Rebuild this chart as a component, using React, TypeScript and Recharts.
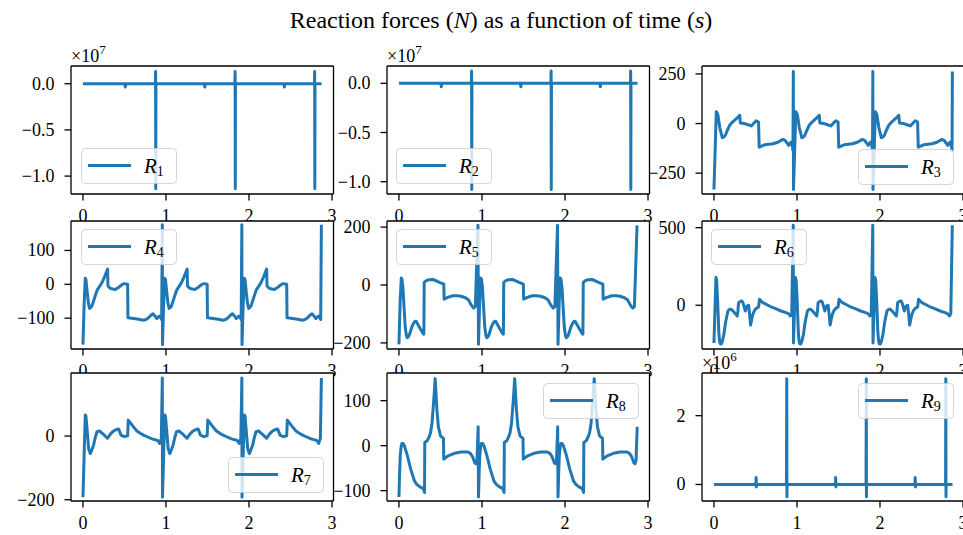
import React from "react";
import { LineChart, Line, XAxis, YAxis, CartesianGrid, ReferenceLine, Legend } from "recharts";

// time axis (s): the motion repeats with the same period, cycles start at these times
const CYCLE_STARTS = [0, 0.958, 1.916];
const X_TICKS = [0, 1, 2, 3];
const X_DOMAIN = [-0.144, 3.018];

// one cycle of each reaction force, [time in cycle, value]
const R1_SHAPE = [[0, 0], [0.505, 0], [0.51, -0.035], [0.515, 0], [0.872, 0], [0.875, 0.132], [0.877, -1.136], [0.879, 0], [0.958, 0]];
const R2_SHAPE = [[0, 0], [0.505, 0], [0.51, -0.035], [0.515, 0], [0.872, 0], [0.875, 0.126], [0.877, -1.078], [0.879, 0], [0.958, 0]];
const R3_SHAPE = [
  [0, -332], [0.014, -140], [0.028, 60], [0.036, 55], [0.048, 42], [0.07, -20], [0.1, -71], [0.118, -68], [0.136, -60],
  [0.16, -35], [0.19, -8], [0.22, 6], [0.25, 17], [0.28, 28], [0.31, 42], [0.318, 3], [0.34, 2], [0.37, 0], [0.41, -6],
  [0.45, -12], [0.48, 2], [0.51, 14], [0.537, 8], [0.545, -119], [0.61, -107], [0.66, -104], [0.71, -102], [0.77, -94],
  [0.83, -80], [0.857, -85], [0.88, -98], [0.9, -110], [0.915, -100], [0.93, -94], [0.945, -115], [0.952, -136], [0.956, 262],
];
const R4_SHAPE = [
  [0, -178], [0.014, -60], [0.028, 18], [0.036, 14], [0.05, -20], [0.065, -55], [0.08, -71], [0.095, -68], [0.108, -64],
  [0.14, -40], [0.169, -18], [0.2, -6], [0.229, 5], [0.26, 22], [0.297, 45], [0.301, -5], [0.33, -12], [0.36, -14],
  [0.39, -15], [0.42, -11], [0.45, -5], [0.475, 0], [0.498, 2], [0.538, 0], [0.542, -99], [0.61, -101], [0.67, -103],
  [0.73, -106], [0.76, -104], [0.79, -99], [0.815, -92], [0.843, -87], [0.865, -93], [0.89, -101], [0.905, -97],
  [0.92, -94], [0.935, -98], [0.948, -104], [0.956, 176],
];
const R5_SHAPE = [
  [0, -205], [0.014, -60], [0.028, 24], [0.036, 20], [0.048, -8], [0.062, -80], [0.076, -147], [0.09, -175], [0.1, -182],
  [0.115, -178], [0.128, -170], [0.155, -145], [0.18, -130], [0.195, -125], [0.208, -126], [0.235, -140], [0.26, -153],
  [0.285, -165], [0.3, -170], [0.304, 9], [0.33, 15], [0.36, 18], [0.408, 19], [0.45, 14], [0.488, 9], [0.54, 3],
  [0.544, -49], [0.588, -43], [0.648, -37], [0.7, -37], [0.748, -39], [0.8, -44], [0.84, -52], [0.868, -68], [0.9, -80],
  [0.92, -75], [0.952, 206],
];
const R6_SHAPE = [
  [0, -243], [0.012, -30], [0.024, 179], [0.032, 160], [0.045, 20], [0.058, -170], [0.068, -235], [0.078, -249],
  [0.088, -249], [0.1, -235], [0.12, -188], [0.14, -110], [0.168, -37], [0.188, -26], [0.208, -26], [0.228, -36],
  [0.248, -48], [0.265, -58], [0.28, -69], [0.288, -40], [0.297, 17], [0.317, 25], [0.337, 28], [0.35, 15], [0.361, -4],
  [0.377, -37], [0.39, -15], [0.401, -4], [0.417, 0], [0.43, -60], [0.441, -128], [0.455, -90], [0.469, -58],
  [0.49, -32], [0.509, -20], [0.537, -11], [0.549, 39], [0.565, 28], [0.589, 17], [0.64, 3], [0.689, -11], [0.75, -24],
  [0.809, -37], [0.86, -46], [0.897, -54], [0.921, -69], [0.937, -54], [0.955, 515],
];
const R7_SHAPE = [
  [0, -192], [0.014, -60], [0.028, 66], [0.036, 62], [0.05, 20], [0.068, -39], [0.088, -55], [0.105, -45], [0.128, -28],
  [0.15, -3], [0.169, 14], [0.2, 16], [0.225, 10], [0.249, 5], [0.275, -2], [0.297, -7], [0.33, 6], [0.36, 14],
  [0.39, 19], [0.43, 22], [0.458, 3], [0.498, -2], [0.538, 1], [0.546, 50], [0.57, 42], [0.59, 35], [0.62, 25],
  [0.65, 16], [0.69, 9], [0.73, 3], [0.78, -3], [0.831, -9], [0.892, -13], [0.91, -17], [0.924, -23], [0.944, -7],
  [0.956, 182],
];
const R8_SHAPE = [
  [0, -114], [0.008, -60], [0.016, -21], [0.026, -3], [0.036, 5], [0.05, 5], [0.065, 0], [0.08, -9], [0.1, -21],
  [0.12, -36], [0.14, -51], [0.165, -66], [0.188, -79], [0.215, -86], [0.248, -91], [0.288, -95], [0.302, -100],
  [0.308, -104], [0.311, 7], [0.34, 11], [0.36, 18], [0.38, 28], [0.398, 50], [0.415, 90], [0.428, 125], [0.436, 149],
  [0.444, 125], [0.457, 80], [0.475, 42], [0.5, 22], [0.536, 16], [0.54, -30], [0.56, -27], [0.6, -22], [0.668, -17],
  [0.748, -14], [0.83, -14], [0.86, -17], [0.888, -25], [0.916, -39], [0.928, -40], [0.94, -33], [0.954, 42],
];
const R9_SHAPE = [[0, 0], [0.505, 0], [0.508, 0.2], [0.511, -0.07], [0.514, 0], [0.874, 0], [0.877, 3.07], [0.879, -0.36], [0.881, 0], [0.958, 0]];

// y axes
const R1_DOMAIN = [-1.194, 0.192];
const R2_DOMAIN = [-1.125, 0.176];
const R3_DOMAIN = [-355, 290];
const R4_DOMAIN = [-191, 187];
const R5_DOMAIN = [-221, 221];
const R6_DOMAIN = [-282, 543];
const R7_DOMAIN = [-204, 198];
const R8_DOMAIN = [-123, 161.5];
const R9_DOMAIN = [-0.48, 3.24];

const R1_TICKS = [-1, -0.5, 0];
const R2_TICKS = [-1, -0.5, 0];
const R3_TICKS = [-250, 0, 250];
const R4_TICKS = [-100, 0, 100];
const R5_TICKS = [-200, 0, 200];
const R6_TICKS = [0, 500];
const R7_TICKS = [-200, 0];
const R8_TICKS = [-100, 0, 100];
const R9_TICKS = [0, 2];

const BLUE = "#1f77b4";
const FONT = "Liberation Serif, DejaVu Serif, serif";
const PAD_L = 71;
const PAD_T = 24;
const PAD_B = 34;
const PLOT_W = 262.5;
const PLOT_H = 128;
const COL_LEFT = [71, 386.5, 702];
const ROW_TOP = [65.5, 220.7, 373.3];

const PANELS = [
  { idx: 1, shape: R1_SHAPE, domain: R1_DOMAIN, ticks: R1_TICKS, decimals: 1, exp: "7", legend: [81, 148.3] },
  { idx: 2, shape: R2_SHAPE, domain: R2_DOMAIN, ticks: R2_TICKS, decimals: 1, exp: "7", legend: [396, 148.3] },
  { idx: 3, shape: R3_SHAPE, domain: R3_DOMAIN, ticks: R3_TICKS, decimals: 0, exp: "", legend: [858.3, 149] },
  { idx: 4, shape: R4_SHAPE, domain: R4_DOMAIN, ticks: R4_TICKS, decimals: 0, exp: "", legend: [81, 229.3] },
  { idx: 5, shape: R5_SHAPE, domain: R5_DOMAIN, ticks: R5_TICKS, decimals: 0, exp: "", legend: [396, 229.3] },
  { idx: 6, shape: R6_SHAPE, domain: R6_DOMAIN, ticks: R6_TICKS, decimals: 0, exp: "", legend: [711, 229.3] },
  { idx: 7, shape: R7_SHAPE, domain: R7_DOMAIN, ticks: R7_TICKS, decimals: 0, exp: "", legend: [228.3, 456.7] },
  { idx: 8, shape: R8_SHAPE, domain: R8_DOMAIN, ticks: R8_TICKS, decimals: 0, exp: "", legend: [542.7, 383.3] },
  { idx: 9, shape: R9_SHAPE, domain: R9_DOMAIN, ticks: R9_TICKS, decimals: 0, exp: "6", legend: [858.3, 383.3] },
];

function buildSeries(shape: number[][]) {
  const rows: { t: number; v: number }[] = [];
  CYCLE_STARTS.forEach((s) => {
    shape.forEach(([dt, v]) => rows.push({ t: +(s + dt).toFixed(4), v }));
  });
  return rows;
}

function LegendBox({ idx }: { idx: number }) {
  return (
    <svg width={96} height={36} style={{ display: "block" }}>
      <rect x={0.5} y={0.5} width={95} height={35} rx={4} fill="#fff" fillOpacity={0.8} stroke="#cccccc" strokeOpacity={0.8} />
      <line x1={7} x2={50} y1={17.5} y2={17.5} stroke={BLUE} strokeWidth={3} />
      <text x={63} y={24.5} fontFamily={FONT} fontSize={21} fontStyle="italic" fill="#000">
        R
        <tspan fontStyle="normal" fontSize={14} dy={3}>{idx}</tspan>
      </text>
    </svg>
  );
}

function XTick(props: any) {
  const { x, y, payload } = props;
  return (
    <text x={x} y={y + 19} textAnchor="middle" fontFamily={FONT} fontSize={18} fill="#000">
      {payload.value}
    </text>
  );
}

function makeYTick(decimals: number) {
  return function YTick(props: any) {
    const { x, y, payload } = props;
    const v = payload.value as number;
    const s = (v < 0 ? "\u2212" : "") + Math.abs(v).toFixed(decimals);
    return (
      <text x={x} y={y + 6} textAnchor="end" fontFamily={FONT} fontSize={18} fill="#000">
        {s}
      </text>
    );
  };
}

function Panel({ p, i }: { p: (typeof PANELS)[number]; i: number }) {
  const col = i % 3;
  const row = Math.floor(i / 3);
  const padR = col === 2 ? 0 : 14;
  const w = PAD_L + PLOT_W + padR;
  const h = PAD_T + PLOT_H + PAD_B;
  const left = COL_LEFT[col] - PAD_L;
  const top = ROW_TOP[row] - PAD_T;
  const data = buildSeries(p.shape);
  const spine = { stroke: "#000", strokeWidth: 1.3 };

  return (
    <div style={{ position: "absolute", left, top, width: w, height: h, fontFamily: FONT }}>
      <LineChart width={w} height={h} data={data} margin={{ top: PAD_T, right: padR, bottom: 0, left: 0 }}>
        <CartesianGrid horizontal={false} vertical={false} fill="#fff" />
        <XAxis
          dataKey="t"
          type="number"
          domain={X_DOMAIN}
          ticks={X_TICKS}
          interval={0}
          height={PAD_B}
          tick={<XTick />}
          tickSize={6.5}
          tickMargin={2}
          tickLine={spine}
          axisLine={spine}
          allowDataOverflow
        />
        <YAxis
          type="number"
          domain={p.domain}
          ticks={p.ticks}
          interval={0}
          width={PAD_L}
          tick={makeYTick(p.decimals)}
          tickSize={6.5}
          tickMargin={10}
          tickLine={spine}
          axisLine={spine}
          allowDataOverflow
          label={
            p.exp
              ? {
                  content: () => (
                    <text x={PAD_L} y={PAD_T - 4} fontFamily={FONT} fontSize={18} fill="#000">
                      ×10
                      <tspan fontSize={13} dy={-8}>{p.exp}</tspan>
                    </text>
                  ),
                }
              : undefined
          }
        />
        <ReferenceLine y={p.domain[1]} stroke="#000" strokeWidth={1.3} ifOverflow="visible" />
        <ReferenceLine x={X_DOMAIN[1]} stroke="#000" strokeWidth={1.3} ifOverflow="visible" />
        <Line
          dataKey="v"
          name={`R${p.idx}`}
          type="linear"
          stroke={BLUE}
          strokeWidth={3}
          strokeLinejoin="round"
          dot={false}
          activeDot={false}
          isAnimationActive={false}
        />
        <Legend
          layout="horizontal"
          verticalAlign="middle"
          align="center"
          content={() => <LegendBox idx={p.idx} />}
          wrapperStyle={{ left: p.legend[0] - left, top: p.legend[1] - top, width: 96, height: 36 }}
        />
      </LineChart>
    </div>
  );
}

export default function App() {
  return (
    <div style={{ position: "absolute", left: 0, top: 0, width: 963, height: 535, overflow: "hidden", background: "#fff" }}>
      <svg width={963} height={40} style={{ position: "absolute", left: 0, top: 0 }}>
        <text x={501} y={28} textAnchor="middle" fontFamily={FONT} fontSize={24} fill="#000">
          Reaction forces (<tspan fontStyle="italic">N</tspan>) as a function of time (<tspan fontStyle="italic">s</tspan>)
        </text>
      </svg>
      {PANELS.map((p, i) => (
        <Panel key={p.idx} p={p} i={i} />
      ))}
    </div>
  );
}
